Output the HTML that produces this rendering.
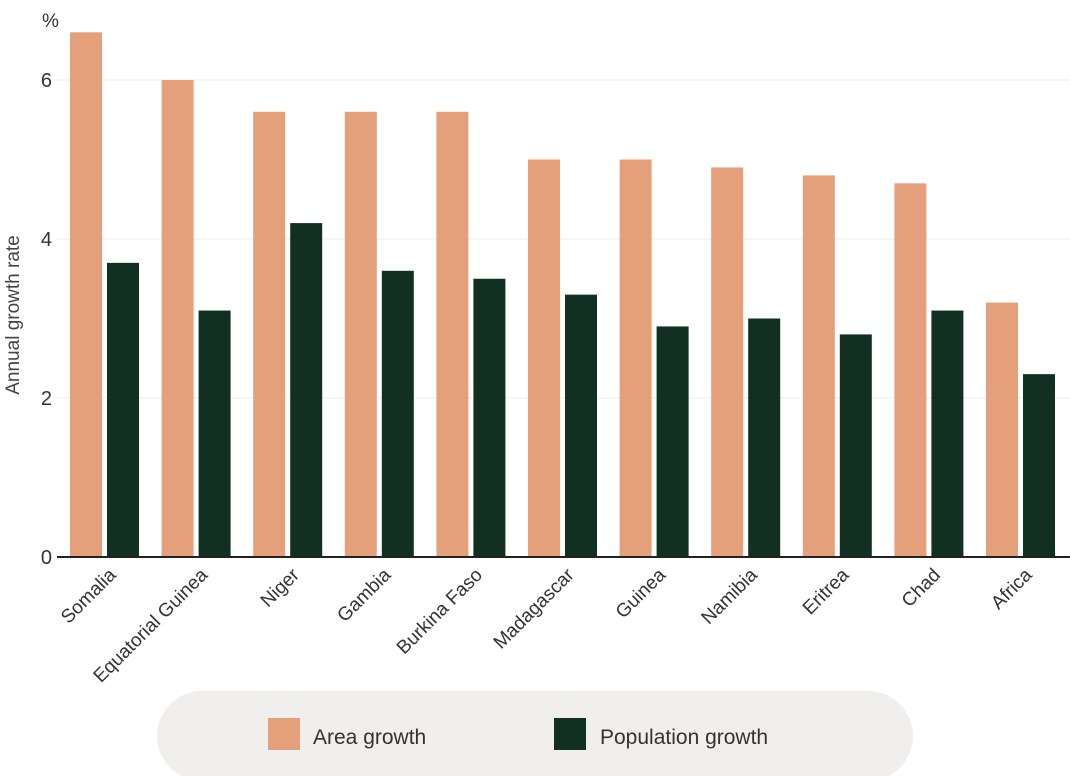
<!DOCTYPE html>
<html><head><meta charset="utf-8"><style>
body{margin:0;background:#fff;font-family:"Liberation Sans",sans-serif}
svg{display:block}
</style></head><body>
<svg width="1070" height="776" viewBox="0 0 1070 776">
<g id="grid"></g><g id="bars"></g><g id="xlabels"></g>
<text x="42" y="27" font-size="19" fill="#333">%</text>
<text transform="translate(19,315) rotate(-90)" text-anchor="middle" font-size="19" fill="#444">Annual growth rate</text>
<line x1="57" x2="1070" y1="557" y2="557" stroke="#222" stroke-width="2"/>
<rect x="157" y="691" width="756" height="90" rx="45" fill="#f1efed"/>
<rect x="268" y="718" width="32" height="32" fill="#e4a07a"/>
<text x="313" y="744" font-size="21" fill="#333">Area growth</text>
<rect x="554" y="718" width="32" height="32" fill="#123021"/>
<text x="600" y="744" font-size="21" fill="#333">Population growth</text>
</svg>
<script>
const categories=["Somalia","Equatorial Guinea","Niger","Gambia","Burkina Faso","Madagascar","Guinea","Namibia","Eritrea","Chad","Africa"];
const areaGrowth=[6.6,6.0,5.6,5.6,5.6,5.0,5.0,4.9,4.8,4.7,3.2];
const popGrowth=[3.7,3.1,4.2,3.6,3.5,3.3,2.9,3.0,2.8,3.1,2.3];
const yTicks=[0,2,4,6];
const NS="http://www.w3.org/2000/svg";
const y=v=>557-v*79.5;
const x=i=>70+i*91.6;
function mk(tag,attrs,parent){const e=document.createElementNS(NS,tag);for(const k in attrs)e.setAttribute(k,attrs[k]);document.getElementById(parent).appendChild(e);return e;}
yTicks.forEach(t=>{
  if(t>0){const l=mk('line',{x1:57,x2:1070,y1:y(t),y2:y(t),stroke:'#eee','stroke-width':1},'grid');
  
  }
  const tx=mk('text',{x:52,y:y(t)+7,'text-anchor':'end','font-size':20,fill:'#333'},'grid');
  tx.textContent=t;
  
  
});
categories.forEach((c,i)=>{
  const a=mk('rect',{x:x(i),y:y(areaGrowth[i]),width:32,height:557-y(areaGrowth[i]),fill:'#e4a07a'},'bars');
  
  
  const p=mk('rect',{x:x(i)+37,y:y(popGrowth[i]),width:32,height:557-y(popGrowth[i]),fill:'#123021'},'bars');
  
  
  const cx=x(i)+47;
  const t=mk('text',{x:cx,y:576,'text-anchor':'end','font-size':19,fill:'#333',transform:`rotate(-45 ${cx} 576)`},'xlabels');
  t.textContent=c;
  
  
});
</script>
</body></html>
